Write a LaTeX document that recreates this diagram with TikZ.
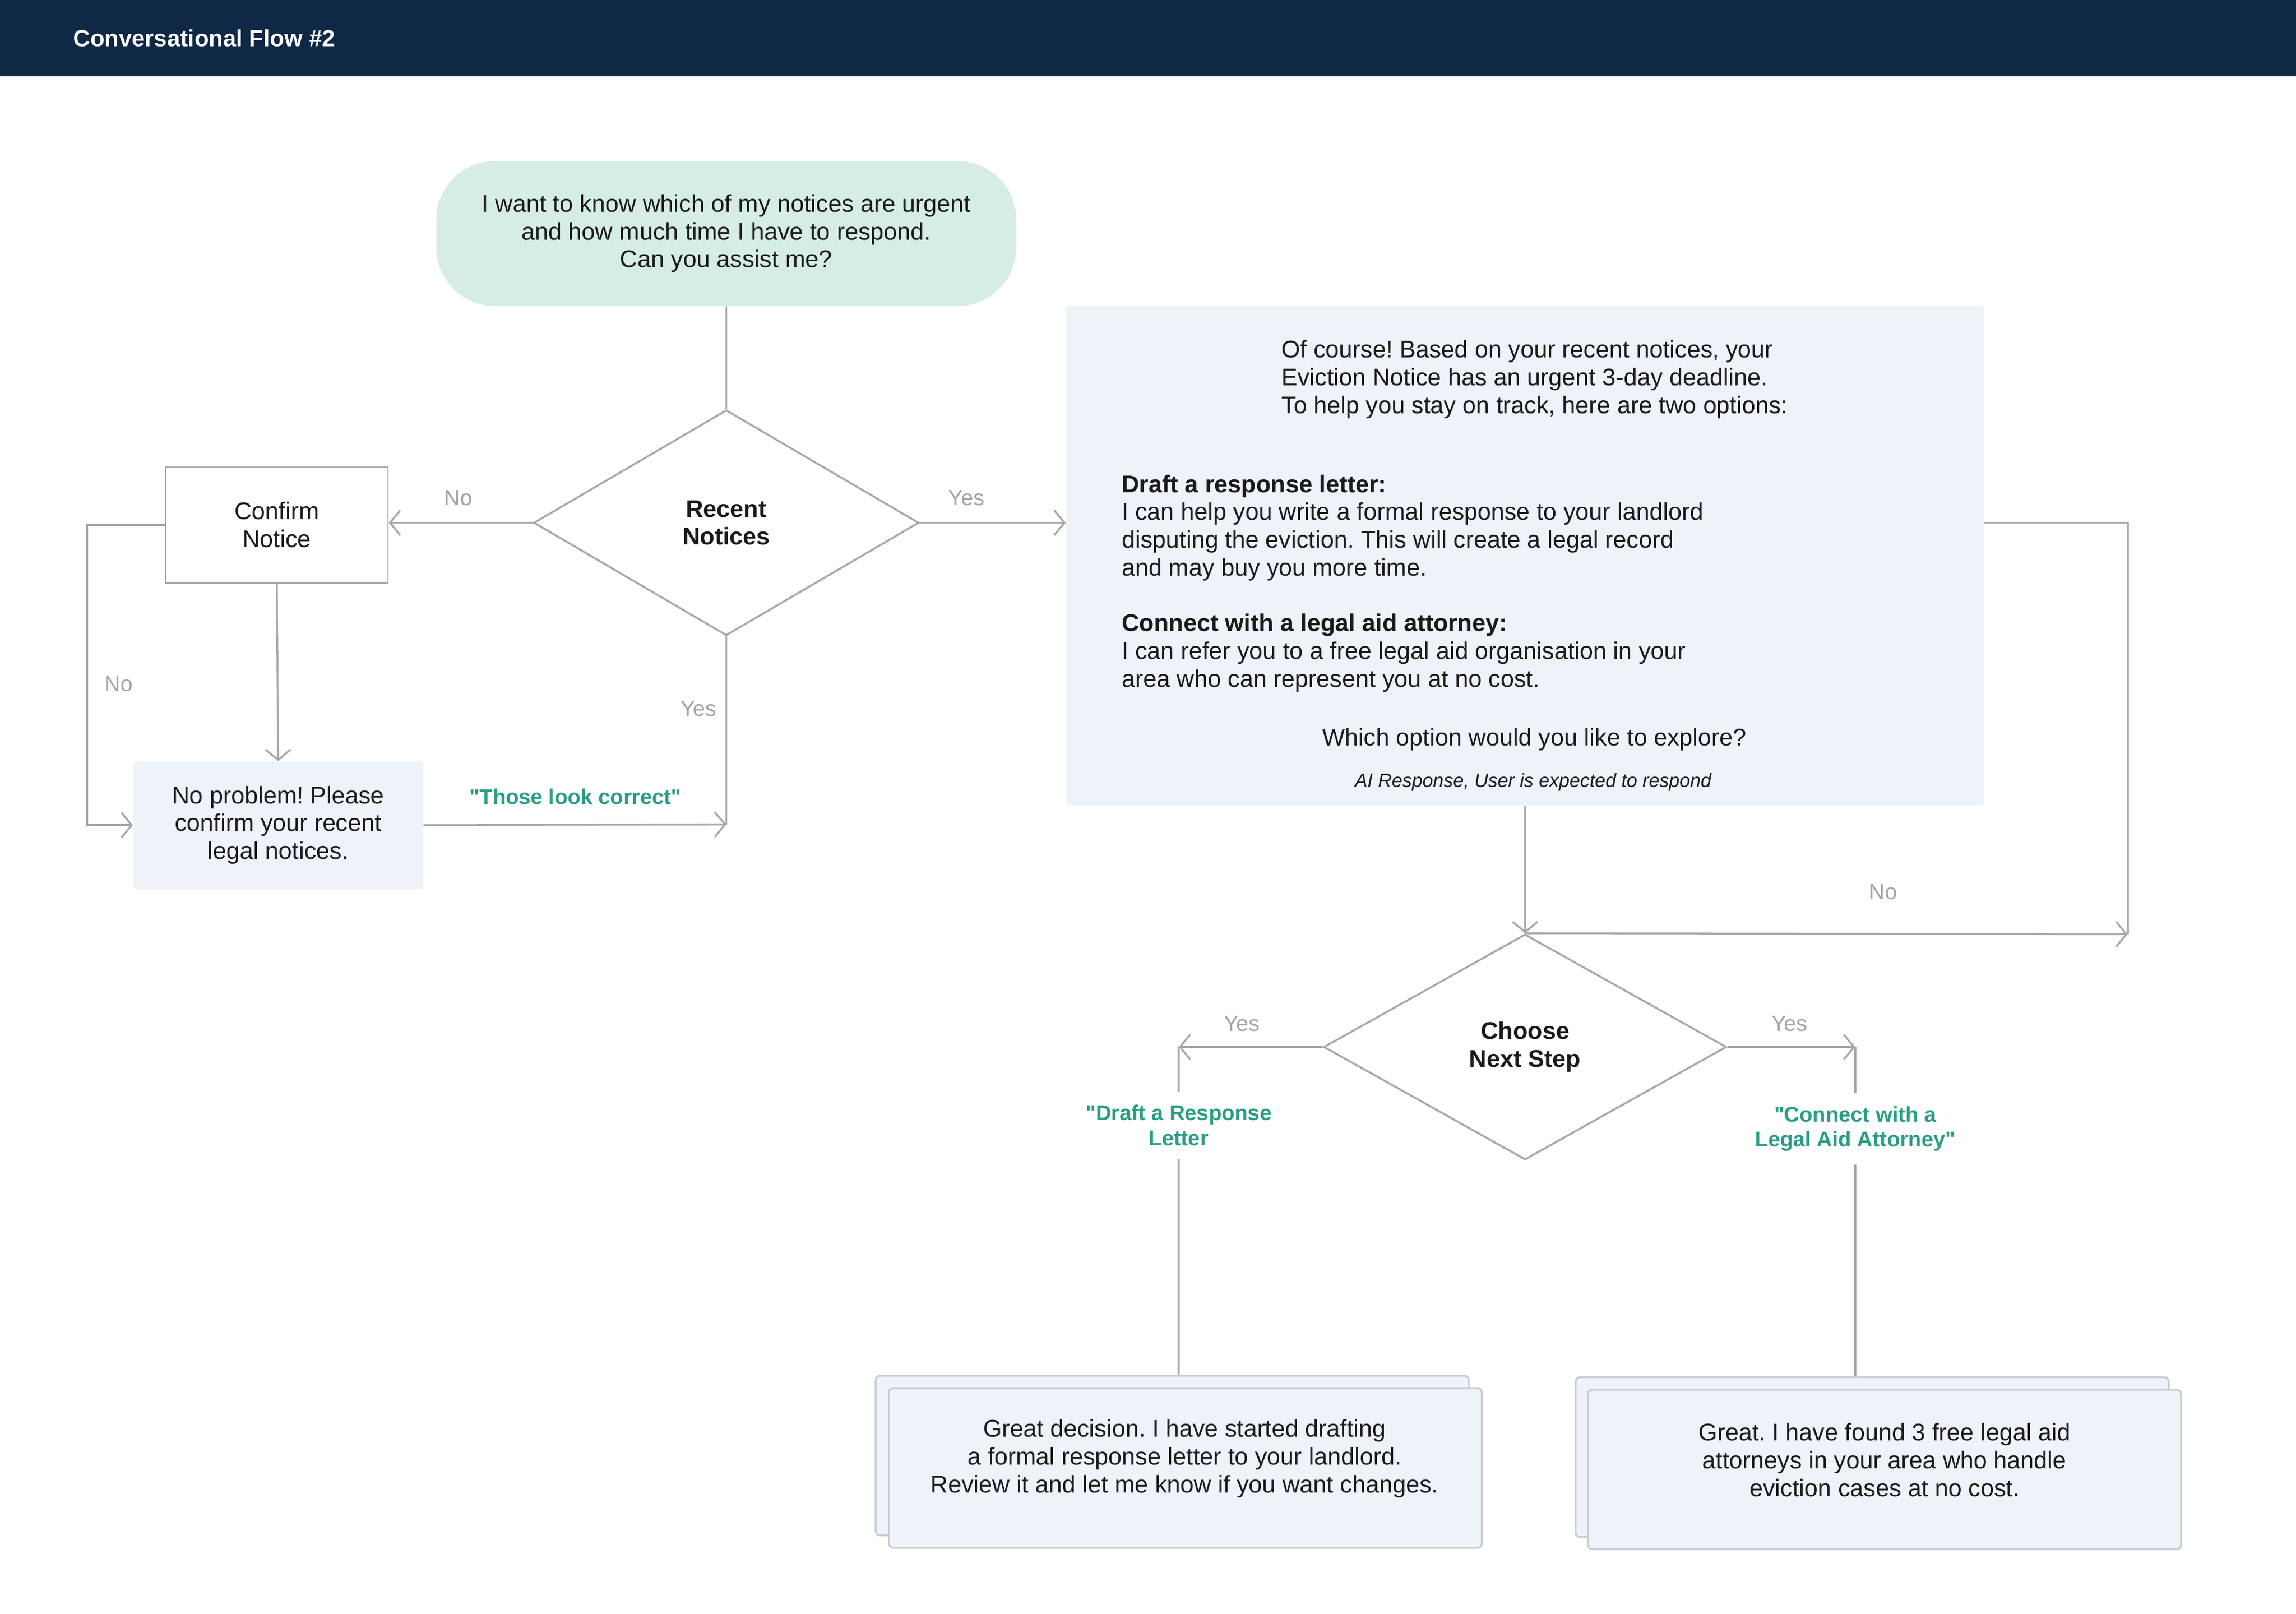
\documentclass[tikz,border=0pt]{standalone}
\usepackage{fontspec}
\setmainfont{Liberation Sans}
\usetikzlibrary{shapes.geometric,arrows.meta,positioning}
\definecolor{navy}{HTML}{0E2846}
\definecolor{mint}{HTML}{D5ECE7}
\definecolor{paper}{HTML}{EEF2F9}
\definecolor{wire}{HTML}{A8A8A8}
\definecolor{hint}{HTML}{A3A3A3}
\definecolor{teal}{HTML}{2A9D86}
\definecolor{ink}{HTML}{1A1A1A}
\definecolor{edge}{HTML}{C9CCD3}
\newcommand{\qq}{\textquotedbl}
\frenchspacing
\begin{document}
\begin{tikzpicture}[x=1pt, y=-1pt,
    base/.style={font=\fontsize{16.5}{19}\selectfont, text=ink, align=center},
    usernode/.style={base, rectangle, rounded corners=40pt, fill=mint,
                     minimum width=396pt, minimum height=99pt},
    decision/.style={base, diamond, draw=wire, line width=1.3pt, inner sep=0pt,
                     font=\fontsize{16.5}{19}\selectfont\bfseries},
    plainbox/.style={base, rectangle, draw=wire, line width=1pt,
                     minimum width=152pt, minimum height=79pt},
    reply/.style={base, rectangle, fill=paper, rounded corners=2pt},
    card/.style={rectangle, fill=paper, draw=edge, line width=1.3pt, rounded corners=3pt,
                 minimum width=405pt, minimum height=109pt},
    para/.style={base, align=left, anchor=west, inner sep=0pt},
    choice/.style={font=\fontsize{14.6}{17}\selectfont\bfseries, text=teal, align=center},
    lbl/.style={font=\fontsize{15}{17}\selectfont, text=hint},
    arrow/.style={draw=wire, line width=1.3pt, -{Straight Barb[length=7pt,width=17pt]}},
    line/.style={draw=wire, line width=1.3pt}
  ]
    \useasboundingbox (0,0) rectangle (1568,1102);

    % Kopfzeile
    \fill[navy] (0,0) rectangle (1568,52);
    \node[anchor=west, inner sep=0pt, text=white,
          font=\fontsize{16}{19}\selectfont\bfseries] (title) at (50,26) {Conversational Flow \#2};

    % Knoten
    \node[usernode] (user) at (496,159.5) {I want to know which of my notices are urgent\\and how much time I have to respond.\\Can you assist me?};
    \node[decision, minimum width=263pt, minimum height=154pt] (recent) at (496,357) {Recent\\Notices};
    \node[plainbox] (confirm) at (189,358.5) {Confirm\\Notice};
    \node[reply, minimum width=198pt, minimum height=87pt] (problem) at (190,563.5) {No problem! Please\\confirm your recent\\legal notices.};

    % Antwortblock
    \node[reply, minimum width=627pt, minimum height=341pt] (response) at (1041.5,379.5) {};
    \node[para] (intro) at (875,259) {Of course! Based on your recent notices, your\\Eviction Notice has an urgent 3-day deadline.\\To help you stay on track, here are two options:};
    \node[para] (draftopt) at (766,360.5) {\textbf{Draft a response letter:}\\I can help you write a formal response to your landlord\\disputing the eviction. This will create a legal record\\and may buy you more time.};
    \node[para] (lawyeropt) at (766,446) {\textbf{Connect with a legal aid attorney:}\\I can refer you to a free legal aid organisation in your\\area who can represent you at no cost.};
    \node[base] (ask) at (1048,505) {Which option would you like to explore?};
    \node[font=\fontsize{13}{15}\selectfont\itshape, text=ink] (note) at (1047,534) {AI Response, User is expected to respond};

    \node[decision, minimum width=275pt, minimum height=154pt] (choose) at (1041.5,715) {Choose\\Next Step};

    % Karten unten
    \node[card] (draftback) at (800.5,994) {};
    \node[card] (draftcard) at (809.5,1002.5) {};
    \node[base] (drafttext) at (809,996) {Great decision. I have started drafting\\a formal response letter to your landlord.\\Review it and let me know if you want changes.};
    \node[card] (lawyerback) at (1278.5,995) {};
    \node[card] (lawyercard) at (1287,1003.5) {};
    \node[base] (lawyertext) at (1287,997) {Great. I have found 3 free legal aid\\attorneys in your area who handle\\eviction cases at no cost.};

    % Hilfspunkte
    \coordinate (join) at (496,563);
    \coordinate (loop) at (1453,638);
    \coordinate (lturn) at (805,715);
    \coordinate (rturn) at (1267,715);
    \node[choice, inner sep=9pt] (draftlbl) at (805,768.5) {\qq Draft a Response\\Letter};
    \node[choice, inner sep=9pt] (lawyerlbl) at (1267,771) {\qq Connect with a\\Legal Aid Attorney\qq};

    % Verbindungen
    \draw[line] (user.south) -- (recent.north);
    \draw[arrow] (recent.west) -- (recent.west -| confirm.east);
    \draw[arrow] (recent.east) -- (recent.east -| response.west);
    \draw[arrow] (confirm.south) -- (problem.north);
    \draw[arrow] (confirm.west) -- ++(-53,0) |- (problem.west);
    \draw[line] (recent.south) -- (join);
    \draw[arrow] (problem.east) -- (join);
    \draw[arrow] (response.south) -- (choose.north);
    \draw[line] (recent.east -| response.east) -| (loop);
    \draw[arrow] (choose.north) -- (loop);
    \draw[arrow] (choose.west) -- (lturn);
    \draw[line] (lturn) -- (draftlbl.north);
    \draw[line] (draftlbl.south) -- (draftlbl.south |- draftback.north);
    \draw[arrow] (choose.east) -- (rturn);
    \draw[line] (rturn) -- (lawyerlbl.north);
    \draw[line] (lawyerlbl.south) -- (lawyerlbl.south |- lawyerback.north);

    % Beschriftungen
    \node[lbl] at (313,340) {No};
    \node[lbl] at (660,340) {Yes};
    \node[lbl] at (81,467) {No};
    \node[lbl] at (477,484) {Yes};
    \node[choice] at (393,544) {\qq Those look correct\qq};
    \node[lbl] at (1286,609) {No};
    \node[lbl] at (848,699) {Yes};
    \node[lbl] at (1222,699) {Yes};
  \end{tikzpicture}
\end{document}
